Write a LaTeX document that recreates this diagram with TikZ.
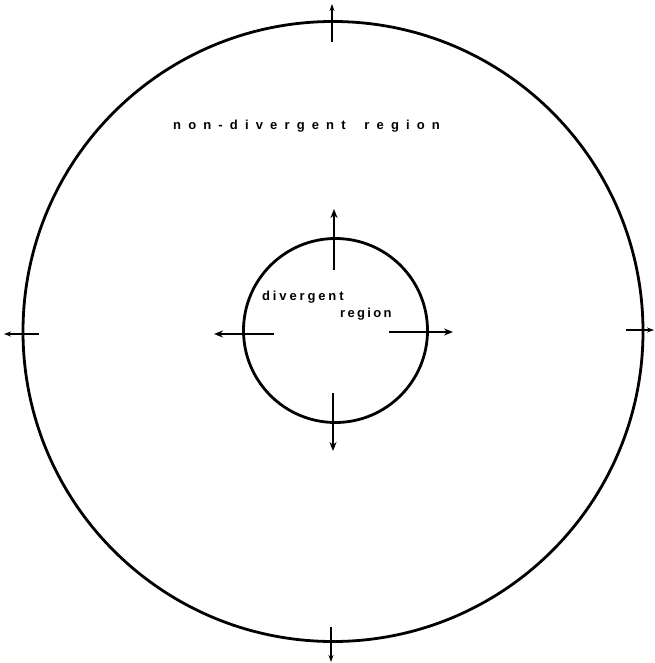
\documentclass[tikz,border=0pt]{standalone}
\usepackage{fontspec}
\setmainfont{Liberation Sans}
\newfontfamily\wideA[LetterSpace=55,UprightFont={* Bold}]{Liberation Sans}
\newfontfamily\wideB[LetterSpace=22,UprightFont={* Bold}]{Liberation Sans}
\newfontfamily\wideC[LetterSpace=18,UprightFont={* Bold}]{Liberation Sans}
\usetikzlibrary{arrows.meta}
\begin{document}
\begin{tikzpicture}[x=1pt,y=-1pt,
  ring/.style={line width=2.8pt},
  flow/.style={line width=1.7pt,-{Stealth[length=9pt,width=7pt]}},
  tick/.style={line width=1.4pt,-{Stealth[length=7pt,width=5pt]}},
  lab/.style={font=\fontsize{13}{15}\selectfont, inner sep=0pt}]
\useasboundingbox (0,0) rectangle (654,663);
\coordinate (C) at (333,331.5);
\coordinate (c) at (335.5,330.5);
\draw[ring] (C) circle (310);
\draw[ring] (c) circle (92);
% inner arrows
\coordinate (t1) at (334,270); \coordinate (t2) at (334,209);
\coordinate (b1) at (333,393); \coordinate (b2) at (333,451);
\coordinate (l1) at (274,334); \coordinate (l2) at (214,334);
\coordinate (r1) at (389,332); \coordinate (r2) at (453,332);
\draw[flow] (t1) -- (t2);
\draw[flow] (b1) -- (b2);
\draw[flow] (l1) -- (l2);
\draw[flow] (r1) -- (r2);
% outer arrows
\coordinate (T1) at (332,42); \coordinate (T2) at (332,4);
\coordinate (B1) at (331,627); \coordinate (B2) at (331,662);
\coordinate (L1) at (39,334); \coordinate (L2) at (4,334);
\coordinate (R1) at (626,330); \coordinate (R2) at (654,330);
\draw[tick] (T1) -- (T2);
\draw[tick] (B1) -- (B2);
\draw[tick] (L1) -- (L2);
\draw[tick] (R1) -- (R2);
% labels
\node[lab, anchor=west] (nd) at (173,126) {\wideA non-divergent\hspace{8pt} region};
\node[lab, anchor=west] (dv) at (262,297) {\wideB divergent};
\node[lab, anchor=west] (rg) at (340,314) {\wideC region};
\end{tikzpicture}
\end{document}
